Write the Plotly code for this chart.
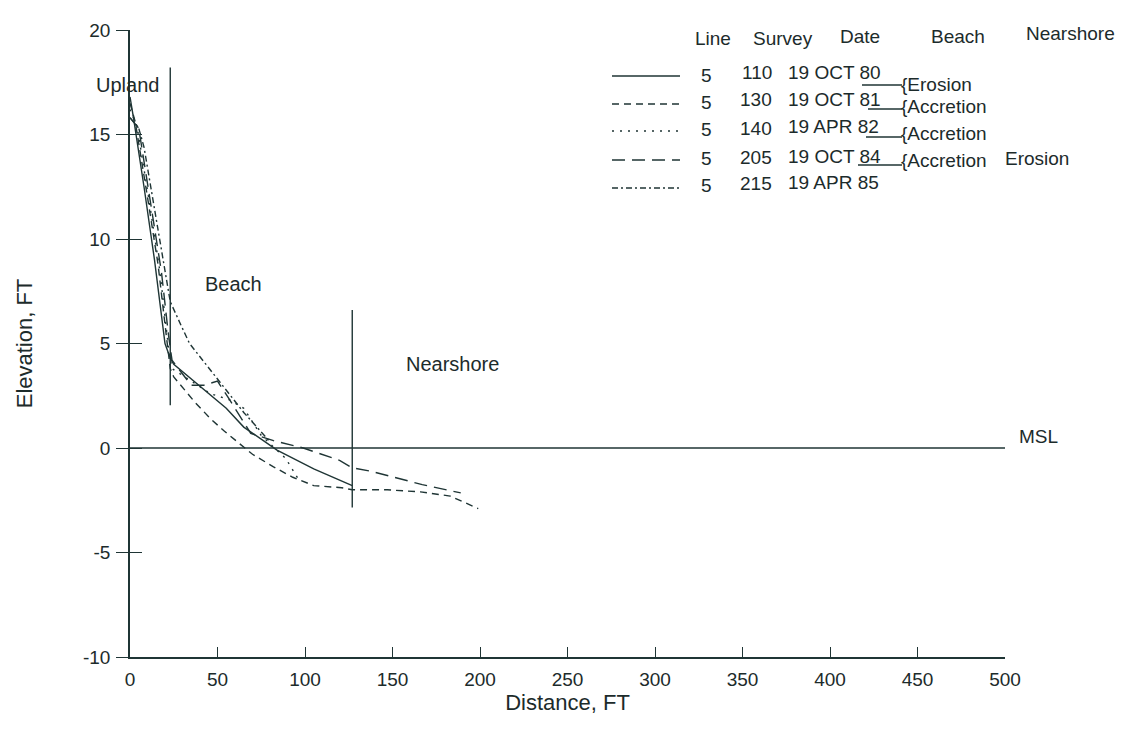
import plotly.graph_objects as go

# ---------------- data ----------------
dist_110 = [0, 2, 8, 14, 20, 23, 25, 38, 55, 65, 84, 105, 127]
elev_110 = [16.8, 15.8, 12.5, 9.0, 5.0, 4.3, 4.0, 3.1, 1.9, 1.0, -0.1, -1.0, -1.8]

dist_130 = [0, 3, 10, 16, 21, 23, 25, 33, 37, 46, 54, 70, 82, 93, 105, 121, 127, 147, 166, 183, 199]
elev_130 = [16.5, 15.6, 12.0, 8.8, 5.2, 3.8, 3.4, 2.6, 2.2, 1.4, 0.8, -0.3, -0.9, -1.4, -1.8, -1.9, -2.0, -2.0, -2.1, -2.3, -2.9]

dist_140 = [0, 4, 11, 17, 22, 24, 35, 46, 57, 65, 75, 89, 97]
elev_140 = [16.2, 15.4, 11.8, 8.5, 4.8, 3.8, 3.2, 2.6, 2.3, 1.9, 0.6, -0.5, -1.6]

dist_205 = [0, 5, 12, 18, 22, 24, 35, 42, 46, 50, 57, 69, 82, 99, 120, 127, 137, 154, 167, 189]
elev_205 = [15.8, 15.3, 11.6, 8.4, 5.4, 4.2, 3.0, 3.0, 3.1, 3.2, 2.3, 0.7, 0.35, 0.0, -0.6, -0.95, -1.1, -1.45, -1.75, -2.15]

dist_215 = [0, 5, 8, 14, 19, 23, 29, 34, 50, 65, 80]
elev_215 = [15.8, 15.3, 14.4, 11.5, 9.0, 7.0, 5.9, 5.0, 3.3, 1.7, 0.3]

# zone boundaries (distance, top, bottom)
zone_x = [23, 127]
zone_top = [18.2, 6.6]
zone_bottom = [2.05, -2.85]

msl_x = [0, 500]
msl_y = [0, 0]

x_ticks = [0, 50, 100, 150, 200, 250, 300, 350, 400, 450, 500]
y_ticks = [-10, -5, 0, 5, 10, 15, 20]
y_tick_text = ["-10", "-5", "0", "5", "10", "15", "20"]

lines_col = ["5", "5", "5", "5", "5"]
surveys = ["110", "130", "140", "205", "215"]
dates = ["19 OCT 80", "19 OCT 81", "19 APR 82", "19 OCT 84", "19 APR 85"]
beach_notes = ["Erosion", "Accretion", "Accretion", "Accretion"]
near_notes = ["", "", "", "Erosion"]
headers = ["Line", "Survey", "Date", "Beach", "Nearshore"]

# ---------------- styling ----------------
INK = "#1f3535"
TXT = "#1c2b2b"
FONT = "Liberation Sans, Arial, sans-serif"
dashes = ["solid", "7px,5px", "2px,6px", "13px,7px", "6px,3px,2px,3px"]

OFF = 8  # page body margin
W, H = 1130 - OFF, 732 - OFF
L, T = 130 - OFF, 30 - OFF
PW, PH = 875, 627
R, B = W - L - PW, H - T - PH


def px(xp):  # page pixel x -> paper
    return (xp - OFF - L) / PW


def py(yp):  # page pixel y -> paper
    return (T + PH - (yp - OFF)) / PH


fig = go.Figure()

profiles = [(dist_110, elev_110), (dist_130, elev_130), (dist_140, elev_140),
            (dist_205, elev_205), (dist_215, elev_215)]
for (dx, ey), dsh, s in zip(profiles, dashes, surveys):
    fig.add_trace(go.Scatter(x=dx, y=ey, mode="lines", name=s,
                             line=dict(color=INK, width=1.4, dash=dsh),
                             showlegend=False, hoverinfo="skip"))

# MSL line
fig.add_trace(go.Scatter(x=msl_x, y=msl_y, mode="lines",
                         line=dict(color=INK, width=1.6), showlegend=False, hoverinfo="skip"))
# zone boundary lines
for zx, zt, zb in zip(zone_x, zone_top, zone_bottom):
    fig.add_trace(go.Scatter(x=[zx, zx], y=[zb, zt], mode="lines",
                             line=dict(color=INK, width=1.4), showlegend=False, hoverinfo="skip"))

# invisible trace on y2 so the inner half of the y ticks is drawn
fig.add_trace(go.Scatter(x=[0], y=[0], yaxis="y2", mode="markers",
                         marker=dict(opacity=0), showlegend=False, hoverinfo="skip"))

annotations = []
lab = dict(size=20, color=TXT, family=FONT)
annotations += [
    dict(x=px(127), y=py(85), xref="paper", yref="paper", text="Upland", showarrow=False,
         xanchor="center", yanchor="middle", font=lab),
    dict(x=px(233), y=py(284), xref="paper", yref="paper", text="Beach", showarrow=False,
         xanchor="center", yanchor="middle", font=lab),
    dict(x=px(452), y=py(364), xref="paper", yref="paper", text="Nearshore", showarrow=False,
         xanchor="center", yanchor="middle", font=lab),
    dict(x=px(1017), y=py(436), xref="paper", yref="paper", text="MSL", showarrow=False,
         xanchor="left", yanchor="middle", font=dict(size=19, color=TXT, family=FONT)),
]

# legend table
leg = dict(size=19, color=TXT, family=FONT)
hdr_x = [713, 783, 860, 958, 1070]
hdr_y = [39, 38, 37, 36, 33]
for h, hx, hy in zip(headers, hdr_x, hdr_y):
    annotations.append(dict(x=px(hx), y=py(hy), xref="paper", yref="paper", text=h,
                            showarrow=False, xanchor="center", yanchor="middle", font=leg))

row_y = [72, 99, 127, 156, 182]
sample_y = [76, 104, 131, 160, 188]
shapes = []
for i in range(5):
    annotations.append(dict(x=px(706), y=py(row_y[i] + 3), xref="paper", yref="paper",
                            text=lines_col[i], showarrow=False, xanchor="center", yanchor="middle",
                            font=leg))
    annotations.append(dict(x=px(774), y=py(row_y[i] + 1), xref="paper", yref="paper",
                            text=surveys[i], showarrow=False, xanchor="right", yanchor="middle",
                            font=leg))
    annotations.append(dict(x=px(786), y=py(row_y[i]), xref="paper", yref="paper",
                            text=dates[i], showarrow=False, xanchor="left", yanchor="middle",
                            font=leg))
    shapes.append(dict(type="line", xref="paper", yref="paper",
                       x0=px(612), x1=px(680), y0=py(sample_y[i]), y1=py(sample_y[i]),
                       line=dict(color=INK, width=1.4, dash=dashes[i])))

note_y = [84, 106, 133, 160]
bar_y = [85, 109, 137, 165]
bar_x0 = [862, 868, 866, 858]
for i in range(4):
    shapes.append(dict(type="line", xref="paper", yref="paper",
                       x0=px(bar_x0[i]), x1=px(902), y0=py(bar_y[i]), y1=py(bar_y[i]),
                       line=dict(color=INK, width=1.3)))
    annotations.append(dict(x=px(899), y=py(note_y[i]), xref="paper", yref="paper",
                            text="{" + beach_notes[i], showarrow=False, xanchor="left", yanchor="middle",
                            font=leg))
    if near_notes[i]:
        annotations.append(dict(x=px(1003), y=py(note_y[i] - 2), xref="paper", yref="paper",
                                text=near_notes[i], showarrow=False, xanchor="left", yanchor="middle",
                                font=leg))

fig.update_layout(
    width=W, height=H,
    margin=dict(l=L, r=R, t=T, b=B, autoexpand=False),
    paper_bgcolor="white", plot_bgcolor="white",
    font=dict(family=FONT, color=TXT),
    xaxis=dict(range=[0, 500], tickvals=x_ticks, ticks="inside", ticklen=10,
               tickcolor=INK, tickwidth=1.2, showline=True, linecolor=INK, linewidth=1.6,
               showgrid=False, zeroline=False, ticklabelstandoff=4,
               tickfont=dict(size=19, color=TXT, family=FONT),
               title=dict(text="Distance, FT", font=dict(size=22, color=TXT, family=FONT), standoff=4)),
    yaxis=dict(range=[-10, 20], tickvals=y_ticks, ticktext=y_tick_text, ticks="outside", ticklen=12,
               tickcolor=INK, tickwidth=1.2, showline=True, linecolor=INK, linewidth=1.6,
               showgrid=False, zeroline=False, ticklabelstandoff=2,
               tickfont=dict(size=19, color=TXT, family=FONT),
               title=dict(text="Elevation, FT", font=dict(size=22, color=TXT, family=FONT), standoff=44)),
    yaxis2=dict(range=[-10, 20], overlaying="y", side="left", tickvals=y_ticks[1:],
                ticks="inside", ticklen=12, tickcolor=INK, tickwidth=1.2,
                showticklabels=False, showline=False, showgrid=False, zeroline=False),
    annotations=annotations,
    shapes=shapes,
    showlegend=False,
)

fig.write_html("out.html")
